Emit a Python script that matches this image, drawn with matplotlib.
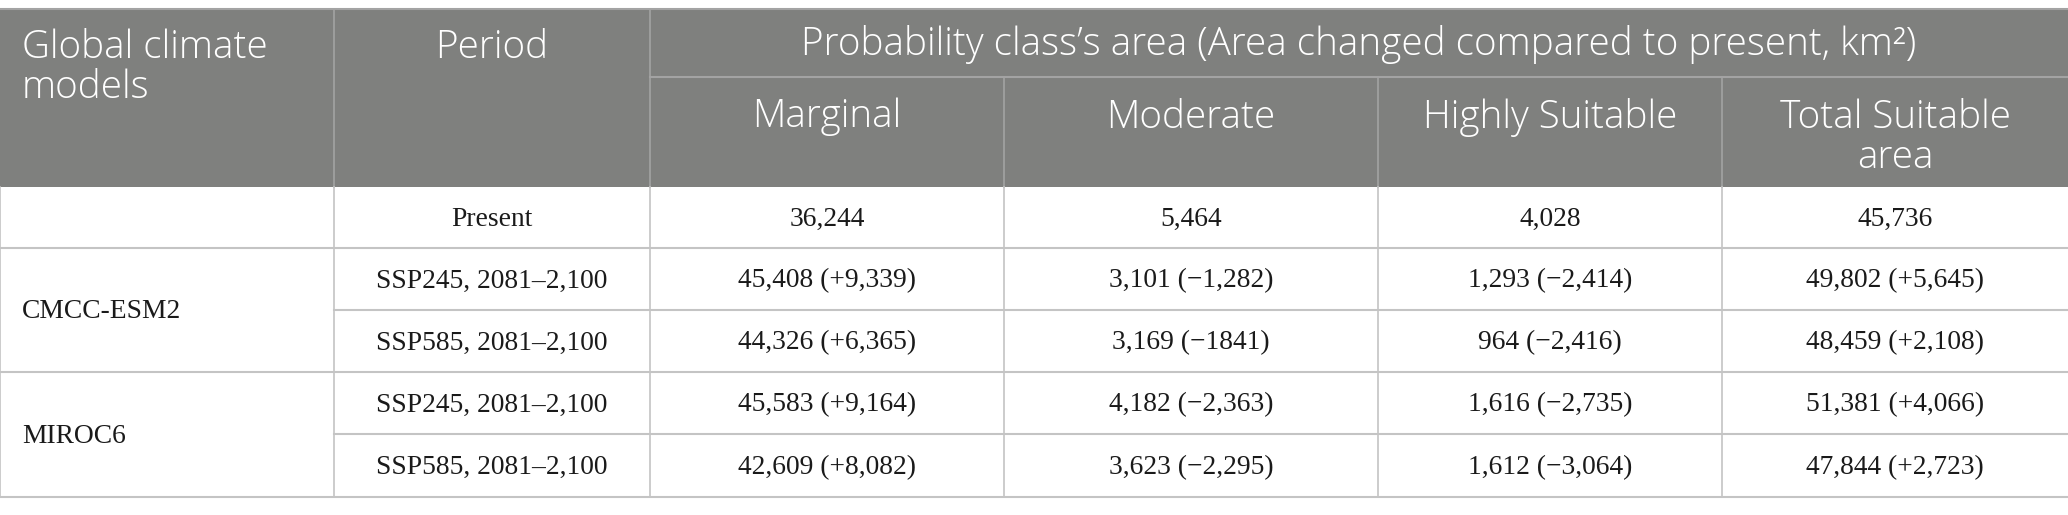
import matplotlib
matplotlib.use("Agg")
import matplotlib.pyplot as plt


# Table content
header_models = "Global climate\nmodels"
header_period = "Period"
header_group = "Probability class\u2019s area (Area changed compared to present, km\u00b2)"
class_names = ["Marginal", "Moderate", "Highly Suitable", "Total Suitable\narea"]

models = ["", "CMCC-ESM2", "MIROC6"]
model_spans = [1, 2, 2]

periods = ["Present",
           "SSP245, 2081\u20132,100", "SSP585, 2081\u20132,100",
           "SSP245, 2081\u20132,100", "SSP585, 2081\u20132,100"]

marginal = ["36,244", "45,408 (+9,339)", "44,326 (+6,365)", "45,583 (+9,164)", "42,609 (+8,082)"]
moderate = ["5,464", "3,101 (\u22121,282)", "3,169 (\u22121841)", "4,182 (\u22122,363)", "3,623 (\u22122,295)"]
highly = ["4,028", "1,293 (\u22122,414)", "964 (\u22122,416)", "1,616 (\u22122,735)", "1,612 (\u22123,064)"]
total = ["45,736", "49,802 (+5,645)", "48,459 (+2,108)", "51,381 (+4,066)", "47,844 (+2,723)"]

# Layout (pixel units)
W, H = 2068, 515
colEdges = [0, 334, 650, 1004, 1378, 1722, 2068]
headTop, headMid, headBottom = 9, 77, 187
rowEdges = [187, 248, 310, 372, 434, 497]

headColor = "#7f807e"
headLine = "#a3a3a3"
bodyLine = "#c4c4c4"
headFont = "Open Sans"
bodyFont = "Liberation Serif"
headSize = 27.8
bodySize = 19.8


def drawTable():
    figure = plt.figure(figsize=(W / 100, H / 100), dpi=100)
    axes = figure.add_axes([0, 0, 1, 1])
    axes.set_xlim(0, W)
    axes.set_ylim(H, 0)
    axes.axis("off")

    # header background
    axes.fill_between([0, W], headTop, headBottom, color=headColor, lw=0)

    # header lines
    axes.plot([0, W], [headTop, headTop], color=headLine, lw=1.5)
    axes.plot([colEdges[2], W], [headMid, headMid], color=headLine, lw=1.5)
    for x in colEdges[1:3]:
        axes.plot([x, x], [headTop, headBottom], color=headLine, lw=1.2)
    for x in colEdges[3:-1]:
        axes.plot([x, x], [headMid, headBottom], color=headLine, lw=1.2)

    # header text
    textStyle = dict(color="white", fontsize=headSize, family=headFont, weight="light")
    axes.text(22, 28, header_models, ha="left", va="top", linespacing=1.06, **textStyle)
    axes.text((colEdges[1] + colEdges[2]) / 2, 28, header_period,
              ha="center", va="top", **textStyle)
    axes.text((colEdges[2] + W) / 2, (headTop + headMid) / 2 + 2, header_group,
              ha="center", va="center", **textStyle)
    for i, name in enumerate(class_names):
        xc = (colEdges[i + 2] + colEdges[i + 3]) / 2
        axes.text(xc, 98, name, ha="center", va="top", linespacing=1.06, **textStyle)

    # body lines
    axes.plot([0, W], [rowEdges[-1], rowEdges[-1]], color=bodyLine, lw=1.5)
    r = 0
    for span in model_spans:
        r += span
        if r < len(periods):
            axes.plot([0, W], [rowEdges[r], rowEdges[r]], color=bodyLine, lw=1.5)
        for k in range(r - span + 1, r):
            axes.plot([colEdges[1], W], [rowEdges[k], rowEdges[k]], color=bodyLine, lw=1.5)
    for x in colEdges[:-1]:
        axes.plot([x, x], [rowEdges[0], rowEdges[-1]], color=bodyLine, lw=1.2)

    # body text
    bodyStyle = dict(fontsize=bodySize, family=bodyFont, color="#1a1a1a", va="center")
    r = 0
    for model, span in zip(models, model_spans):
        yc = (rowEdges[r] + rowEdges[r + span]) / 2 + 2
        axes.text(22, yc, model, ha="left", **bodyStyle)
        r += span

    columns = [periods, marginal, moderate, highly, total]
    for c, values in enumerate(columns):
        xc = (colEdges[c + 1] + colEdges[c + 2]) / 2
        for i, value in enumerate(values):
            yc = (rowEdges[i] + rowEdges[i + 1]) / 2 + 2
            axes.text(xc, yc, value, ha="center", **bodyStyle)

    figure.savefig("out.png", dpi=100, facecolor="white")


drawTable()
